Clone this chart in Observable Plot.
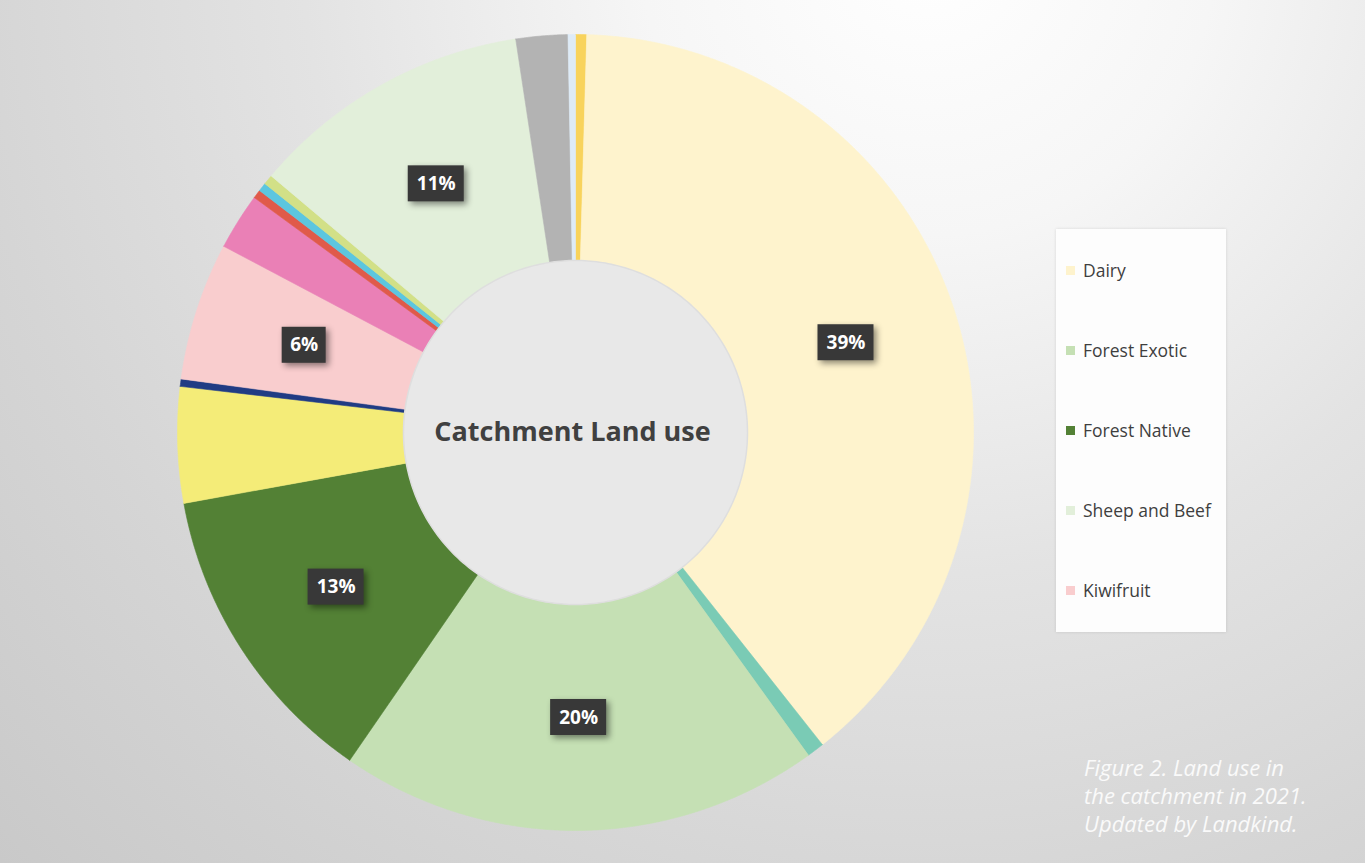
<!DOCTYPE html>
<html><head><meta charset="utf-8">
<script src="https://cdn.jsdelivr.net/npm/d3@7"></script>
<script src="https://cdn.jsdelivr.net/npm/@observablehq/plot@0.6"></script>
<style>
html,body{margin:0;padding:0;width:1365px;height:863px;overflow:hidden}
body{background:radial-gradient(circle farthest-corner at 68% -6%, #ffffff 0%, #f6f6f6 22%, #e3e3e3 48%, #d5d5d5 74%, #c9c9c9 100%);position:relative;font-family:"Open Sans",sans-serif}
#chart{position:absolute;left:0;top:0}
#chart g[aria-label="rect"]{filter:drop-shadow(3px 3px 3px rgba(0,0,0,0.45))}
#legend{position:absolute;left:1056px;top:229px;width:170px;height:403px;background:#fdfdfd;box-shadow:0 0 3px rgba(0,0,0,0.12)}
.item{position:absolute;left:10px;height:22px;display:flex;align-items:center;font-size:17.5px;color:#3f3f3f;white-space:nowrap}
.sw{width:9px;height:9px;margin-right:8px}
#caption{position:absolute;left:1084px;top:753px;color:#fafafa;font-style:italic;font-size:22px;line-height:28px;white-space:nowrap}
</style></head><body>
<div id="chart"></div><div id="legend"></div><div id="caption"></div>
<script>
// ---- data (clockwise from 12 o'clock) ----
const categories = ["Unlabelled A","Dairy","Unlabelled B","Forest Exotic","Forest Native","Unlabelled C","Unlabelled D","Kiwifruit","Unlabelled E","Unlabelled F","Unlabelled G","Unlabelled H","Sheep and Beef","Unlabelled I","Unlabelled J"];
const values = [0.45, 38.9, 0.7, 19.55, 12.55, 4.7, 0.3, 5.6, 2.3, 0.35, 0.35, 0.4, 11.45, 2.1, 0.3];
const colors = ["#f8d35c","#fef3cd","#7acbb5","#c5e0b4","#538135","#f4ec78","#203c84","#f9cdce","#ea80b6","#e05a4a","#5cc6df","#d2e087","#e2efda","#b3b3b3","#deebf7"];
const labelled = ["Dairy","Forest Exotic","Forest Native","Sheep and Beef","Kiwifruit"];
const legendItems = ["Dairy","Forest Exotic","Forest Native","Sheep and Beef","Kiwifruit"];
const centreTitle = "Catchment Land use";
const captionLines = ["Figure 2. Land use in","the catchment in 2021.","Updated by Landkind."];

// ---- layout ----
const W = 1365, H = 863, CX = 575, CY = 432, R = 398;
const inner = 172 / R;
const mid = (inner + 1) / 2;

const arcs = d3.pie().sort(null).value(d => d.v)(categories.map((c, i) => ({c, v: values[i], color: colors[i]})));

const pts = [];
arcs.forEach(a => {
  const n = Math.max(2, Math.ceil((a.endAngle - a.startAngle) / 0.005));
  const ring = [];
  for (let k = 0; k <= n; k++) { const t = a.startAngle + (a.endAngle - a.startAngle) * k / n; ring.push([Math.sin(t), Math.cos(t)]); }
  for (let k = n; k >= 0; k--) { const t = a.startAngle + (a.endAngle - a.startAngle) * k / n; ring.push([Math.sin(t) * inner, Math.cos(t) * inner]); }
  ring.push(ring[0]);
  ring.forEach(([x, y]) => pts.push({key: a.data.c, color: a.data.color, x, y}));
});

const hole = d3.range(0, 361, 1).map(d => ({x: Math.sin(d * Math.PI / 180) * inner, y: Math.cos(d * Math.PI / 180) * inner}));

const labels = arcs.filter(a => labelled.includes(a.data.c)).map(a => {
  const t = (a.startAngle + a.endAngle) / 2;
  const text = Math.round(a.data.v) + "%";
  return {x: Math.sin(t) * mid, y: Math.cos(t) * mid, text, hw: (text.length > 2 ? 28 : 22) / R, hh: 18 / R};
});

const plot = Plot.plot({
  width: W, height: H,
  margin: 0,
  style: {background: "transparent"},
  x: {domain: [-CX / R, (W - CX) / R], axis: null},
  y: {domain: [-(H - CY) / R, CY / R], axis: null},
  color: {type: "identity"},
  marks: [
    Plot.line(pts, {x: "x", y: "y", z: "key", fill: "color", stroke: "color", strokeWidth: 0.6, curve: "linear"}),
    Plot.line(hole, {x: "x", y: "y", fill: "#e8e8e8", stroke: "#dedede", strokeWidth: 1.5}),
    Plot.text([centreTitle], {x: 0, y: 0, dx: -3, text: d => d, fontSize: 27, fontWeight: "bold", fill: "#404040", fontFamily: "Open Sans"}),
    Plot.rect(labels, {x1: d => d.x - d.hw, x2: d => d.x + d.hw, y1: d => d.y - d.hh, y2: d => d.y + d.hh, fill: "#383838"}),
    Plot.text(labels, {x: "x", y: "y", text: "text", fill: "#ffffff", fontSize: 19, fontWeight: "bold", fontFamily: "Open Sans"})
  ]
});
document.getElementById("chart").appendChild(plot);

// legend
const lg = document.getElementById("legend");
legendItems.forEach((name, i) => {
  const el = document.createElement("div");
  el.className = "item";
  el.style.top = (30 + i * 80) + "px";
  const sw = document.createElement("span");
  sw.className = "sw";
  sw.style.background = colors[categories.indexOf(name)];
  el.appendChild(sw);
  el.appendChild(document.createTextNode(name));
  lg.appendChild(el);
});
document.getElementById("caption").innerHTML = captionLines.join("<br>");
</script>
</body></html>
